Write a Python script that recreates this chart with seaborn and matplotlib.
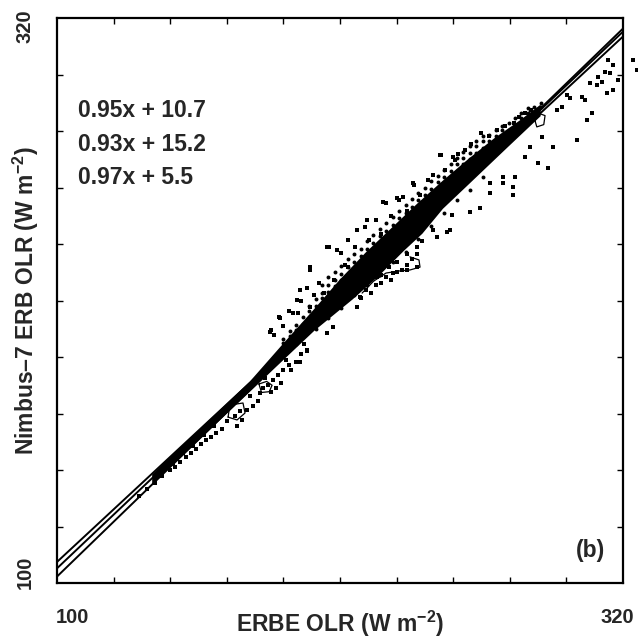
import numpy as np
import pandas as pd
import seaborn as sns
import matplotlib.pyplot as plt
import matplotlib.transforms as mtransforms

# regression lines (slope, intercept) shown in the upper-left corner
slopes = [0.95, 0.93, 0.97]
intercepts = [10.7, 15.2, 5.5]
x_range = [100, 320]

# scatter points (ERBE OLR, Nimbus-7 OLR), W m-2
string_x = [132, 135, 138, 141, 144, 146, 148, 150, 152, 154, 156, 158, 160, 162, 164, 149, 153, 157, 161, 145]
string_y = [134, 136.5, 139, 141.5, 144, 145, 147, 149, 150.5, 152, 154, 155.5, 157, 158.5, 160, 150.5, 153.5, 157.5, 161, 146.5]

lower_x = [166, 169, 171, 174, 176, 178, 180, 182, 184, 186, 188, 190, 179, 183, 185, 187, 175, 177, 170, 172,
           181, 189, 191, 193, 194.5, 195, 197, 196, 197.2, 204.9, 207.3, 216.6, 217.8, 224.4, 230.6, 236, 239.9,
           246.2, 247.7, 251.6, 252.8, 253.5, 260.5, 264.4, 268.3, 273.4, 277.2, 268.3, 273.4, 277.2, 278, 281.9,
           283.9, 287, 288.5, 290.9,
           218, 220, 222, 224, 226, 228, 230, 232, 234, 236, 238, 240, 226, 232, 236, 240, 242, 229]
lower_y = [163, 165, 167, 167.5, 169, 171, 176, 177, 179, 181, 183, 185, 174, 174.5, 176, 178, 173, 178, 161, 163.5,
           180, 187, 183, 186, 186, 189, 190.5, 193, 190.7, 197.4, 199.7, 207.5, 211.4, 219.2, 220.7, 221.9, 223,
           237.5, 234.7, 236.7, 237.5, 243.3, 244.5, 246, 251.9, 255.8, 251.1, 255.8, 258.1, 254.2, 258.1, 265.9,
           269.8, 263.5, 273.7, 261.6,
           211, 214, 213, 216, 217, 219, 218, 221, 222, 224, 226, 228, 220, 225, 228, 231, 233, 223]

upper_x = [183.2, 184.5, 186.3, 188, 190, 193.7, 195, 197.2, 198.3, 200, 202, 203.8, 205.7, 207.7, 210.4, 212,
           213.1, 213.1, 216, 219.7, 221.3, 224, 226, 227.9, 230, 233, 234.5, 236, 238.8, 241, 244.2, 246, 249.3,
           251, 254.7, 256, 258.6, 261, 264.8, 268, 271, 274, 277.6, 279.6, 282, 284.2, 198.3, 205, 208.8, 216.6,
           220.5, 226.7, 232.2, 238.4, 248.9, 253.9, 194.5, 193.3, 186.7, 182.8, 191.7, 198.3]
upper_y = [198.5, 196.5, 203.6, 200, 206, 205.1, 210, 214.9, 221.9, 212, 217, 213, 230.8, 218, 228.5, 224,
           233.6, 223, 231, 238.6, 233.6, 241.4, 236, 248, 243, 249, 250.3, 245, 255, 251, 256.9, 259, 266.7,
           261, 264.7, 267, 268.6, 271, 275.2, 274, 276.4, 278, 279.1, 281.5, 283, 284.2, 223, 230.8, 229.7, 237.5,
           241.4, 248.4, 249.9, 255.8, 266.7, 265.9, 214.1, 210.2, 203.2, 197.7, 205.1, 207.5]

# the crowded band that sits just above the fitted lines
band_x = [188, 188, 188, 190.5, 190.5, 190.5, 193, 193, 193, 193, 195.5, 195.5, 195.5, 195.5,
          198, 198, 198, 198, 200.5, 200.5, 200.5, 200.5, 200.5, 203, 203, 203, 203, 203,
          205.5, 205.5, 205.5, 205.5, 205.5, 205.5, 208, 208, 208, 208, 208,
          210.5, 210.5, 210.5, 210.5, 210.5, 210.5, 213, 213, 213, 213, 213,
          215.5, 215.5, 215.5, 215.5, 215.5, 215.5, 218, 218, 218, 218, 218,
          220.5, 220.5, 220.5, 220.5, 220.5, 220.5, 223, 223, 223, 223, 223,
          225.5, 225.5, 225.5, 225.5, 225.5, 225.5, 228, 228, 228, 228, 228,
          230.5, 230.5, 230.5, 230.5, 230.5, 230.5, 233, 233, 233, 233, 233,
          235.5, 235.5, 235.5, 235.5, 235.5, 235.5, 238, 238, 238, 238, 238,
          240.5, 240.5, 240.5, 240.5, 240.5, 240.5, 243, 243, 243, 243, 243,
          245.5, 245.5, 245.5, 245.5, 245.5, 245.5, 248, 248, 248, 248, 248,
          250.5, 250.5, 250.5, 250.5, 250.5, 250.5, 253, 253, 253, 253, 253,
          255.5, 255.5, 255.5, 255.5, 255.5, 255.5, 258, 258, 258, 258, 258,
          260.5, 260.5, 260.5, 260.5, 260.5, 260.5, 263, 263, 263, 263, 263,
          265.5, 265.5, 265.5, 265.5, 265.5, 265.5, 268, 268, 268, 268,
          270.5, 270.5, 270.5, 270.5, 273, 273, 273, 273, 275.5, 275.5, 275.5,
          278, 278, 278, 280.5, 280.5, 280.5, 283, 283, 283, 285.5, 285.5, 288, 288]
band_y = [191, 193.5, 195, 193, 196, 198, 196, 198.5, 200.5, 193, 198, 201, 203.5, 196,
          200.5, 203, 206, 208, 203, 205.5, 208, 210.5, 199, 205, 208, 211, 213, 216,
          208, 210, 213.5, 216, 219, 203, 210, 213, 215.5, 218, 221,
          212.5, 215, 218, 220.5, 223.5, 207, 215, 217.5, 220, 223, 226,
          217, 220, 222.5, 225, 228, 212, 220, 222, 225, 227.5, 230,
          222, 224.5, 227.5, 230, 233, 216, 224.5, 227, 230, 232.5, 235.5,
          227, 229.5, 232, 235, 238, 220, 229, 232, 234.5, 237, 240,
          232, 234.5, 237, 239.5, 242.5, 225, 234, 236.5, 239, 242, 245,
          236.5, 239, 241.5, 244, 247, 229, 239, 241, 244, 246.5, 249.5,
          241, 243.5, 246, 249, 252, 234, 243.5, 246, 248.5, 251, 254,
          246, 248.5, 251, 253.5, 256.5, 239, 248, 250.5, 253, 256, 258.5,
          250.5, 253, 255.5, 258, 261, 244, 253, 255.5, 258, 260.5, 263,
          255.5, 258, 260.5, 263, 265.5, 249, 258, 260.5, 263, 265.5, 268,
          260, 262.5, 265, 267.5, 270, 253, 262.5, 265, 267.5, 270, 272,
          265, 267, 269.5, 272, 274, 258, 267, 269.5, 272, 274.5,
          269.5, 272, 274, 276.5, 272, 274, 276.5, 278, 274, 276.5, 279,
          276.5, 278.5, 281, 279, 281, 283, 281, 283, 285, 283.5, 285.5, 285.5, 287]

right_x = [292.8, 294.4, 296.3, 298.2, 299.4, 302.1, 304, 305.2, 306, 307.2, 308, 309.9, 310.3, 311.8, 313, 313.8,
           314.2, 315, 316, 316.1, 318, 323.9, 325.4]
right_y = [269.8, 284.2, 285.4, 290, 288.9, 272.5, 289.2, 288, 280.3, 294.7, 283, 293.9, 297, 295.1, 299, 290.8,
           303.7, 298.6, 301.7, 292, 296, 303.7, 299.8]

# outline of the densest, nearly solid part of the cloud
core_x = [137, 160, 175, 188, 200, 210, 220, 230, 240, 250, 260, 270, 280, 288,
          288, 275, 260, 250, 242, 235, 225, 215, 200, 185, 160, 137]
core_y = [142.3, 164.2, 178.5, 193.3, 206.7, 218.2, 228.7, 238.2, 247.7, 256.7, 265.2, 273.2, 280.2, 286.3,
          281.8, 269.5, 255.2, 245.7, 236, 229.5, 219.5, 210.5, 198.2, 184, 160.2, 138.4]

# contour outlines drawn over the points
loop1_x = [166.5, 167.2, 172.3, 173.1, 170, 166.5]
loop1_y = [164.6, 169.3, 170.1, 166.2, 163.5, 164.6]
loop2_x = [178.5, 179.5, 182.5, 183.6, 181.5, 178.5]
loop2_y = [177.5, 174.2, 174.5, 177, 178.5, 177.5]
edge_x = [218.6, 223, 227.9, 233, 237.2, 241.1, 240.7, 237.2]
edge_y = [212.9, 217.5, 220.7, 221.5, 221.9, 223, 225.8, 227]
loop4_x = [285.8, 287, 289.7, 289.2, 286.5, 285.8]
loop4_y = [280, 283, 282, 278.5, 277.6, 280]

sns.set_theme(style="ticks")
plt.rcParams['font.family'] = ['Liberation Sans', 'DejaVu Sans']
plt.rcParams['font.weight'] = 'bold'
plt.rcParams['mathtext.fontset'] = 'custom'
plt.rcParams['mathtext.bf'] = 'Liberation Sans:bold'
plt.rcParams['mathtext.rm'] = 'Liberation Sans:bold'
plt.rcParams['mathtext.default'] = 'bf'

fig = plt.figure(figsize=(6.38, 6.39), dpi=100)
ax = fig.add_axes([0.0893, 0.0876, 0.8872, 0.8842])

ax.fill(core_x, core_y, color='black', lw=0)

# scattered points around the ridge
sparse = pd.DataFrame({
    'erbe': string_x + lower_x + upper_x + right_x,
    'nimbus': string_y + lower_y + upper_y + right_y,
})
sns.scatterplot(data=sparse, x='erbe', y='nimbus', s=5, marker='s', color='black', linewidth=0, ax=ax)
ax.collections[-1].set_clip_on(False)

# crowded band: dots run together at the ragged edge of the ridge
crowd = pd.DataFrame({'erbe': band_x, 'nimbus': band_y})
sns.scatterplot(data=crowd, x='erbe', y='nimbus', s=8, color='black', linewidth=0, ax=ax)

for lx, ly in [(loop1_x, loop1_y), (loop2_x, loop2_y), (edge_x, edge_y), (loop4_x, loop4_y)]:
    ax.plot(lx, ly, color='black', lw=0.9)

xs = np.array(x_range, dtype=float)
for m, b in zip(slopes, intercepts):
    sns.lineplot(x=xs, y=m * xs + b, color='black', lw=1.4, ax=ax)

for i, (m, b) in enumerate(zip(slopes, intercepts)):
    ax.text(0.037, 0.836 - i * 0.059, f"{m:.2f}x + {b}", transform=ax.transAxes,
            fontsize=16.5, fontweight='bold', va='center', ha='left')

ax.text(0.942, 0.058, "(b)", transform=ax.transAxes, fontsize=16.5,
        fontweight='bold', ha='center', va='center')

ax.set_xlim(100, 320)
ax.set_ylim(100, 320)
ax.set_xticks([100, 320])
ax.set_yticks([100, 320])
ax.set_xticklabels(['100', '320'], fontsize=14.5, fontweight='bold')
ax.set_yticklabels(['100', '320'], fontsize=14.5, fontweight='bold', rotation=90, va='center')
ax.set_xticks(np.arange(122, 320, 22), minor=True)
ax.set_yticks(np.arange(122, 320, 22), minor=True)
ax.tick_params(which='major', length=0, pad=18)
ax.tick_params(axis='y', which='major', pad=16)
ax.tick_params(which='minor', direction='in', length=4, width=1, color='black',
               top=True, right=True, bottom=True, left=True)

# nudge the end labels to sit like the original
xl = ax.get_xticklabels()
xl[0].set_transform(xl[0].get_transform() + mtransforms.ScaledTranslation(11 / 72, 0, fig.dpi_scale_trans))
xl[1].set_transform(xl[1].get_transform() + mtransforms.ScaledTranslation(-4 / 72, 0, fig.dpi_scale_trans))
yl = ax.get_yticklabels()
yl[0].set_transform(yl[0].get_transform() + mtransforms.ScaledTranslation(0, 8 / 72, fig.dpi_scale_trans))
yl[1].set_transform(yl[1].get_transform() + mtransforms.ScaledTranslation(0, -6 / 72, fig.dpi_scale_trans))

for sp in ax.spines.values():
    sp.set_color('black')
    sp.set_linewidth(1.6)

ax.set_xlabel("ERBE OLR (W m$^{-2}$)", fontsize=16.5, fontweight='bold')
ax.set_ylabel("Nimbus\u20137 ERB OLR (W m$^{-2}$)", fontsize=16.5, fontweight='bold')
ax.xaxis.set_label_coords(0.5, -0.045)
ax.yaxis.set_label_coords(-0.028, 0.5)

fig.savefig('out.png', dpi=100)
